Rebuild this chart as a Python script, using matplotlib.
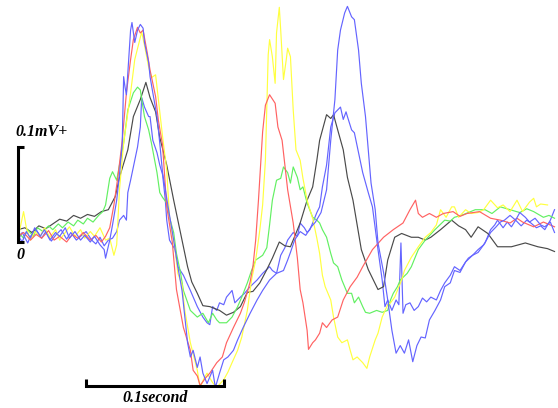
import matplotlib.pyplot as plt

# time in ms, amplitude in microvolts
t_black = [0, 5, 10, 15, 20, 25, 30, 35, 40, 45, 50, 55, 60, 65, 70, 73, 79, 83, 88, 92, 95, 99,
           102, 107, 112, 117, 122, 125, 129, 133, 138, 145, 150, 155, 160, 165, 169, 174, 179, 183,
           188, 192, 196, 203, 208, 212, 215, 217, 222, 225, 227, 230, 234, 237, 241, 247, 252, 259,
           263, 266, 271, 276, 283, 288, 293, 297, 304, 312, 317, 322, 326, 331, 338, 345, 355, 365,
           374, 381, 386]
v_black = [13, 15, 10, 17, 14, 19, 24, 22, 28, 25, 29, 27, 32, 34, 48, 68, 97, 132, 150, 168, 152, 137,
           110, 81, 44, 9, -26, -42, -54, -67, -68, -72, -77, -74, -68, -53, -52, -43, -29, -17,
           0, -4, -5, 20, 44, 58, 86, 107, 134, 130, 134, 118, 97, 68, 44, -8, -29, -50,
           -47, -19, 5, 9, 5, 5, 2, 5, 13, 23, 17, 13, 5, 16, 9, -5, -5, -1,
           -5, -7, -10]

t_red = [0, 4, 9, 13, 17, 22, 26, 30, 35, 39, 43, 47, 52, 56, 60, 63, 66, 69, 72, 75, 78, 81, 83, 86,
         88, 90, 93, 95, 99, 101, 104, 107, 111, 114, 119, 124, 126, 129, 131, 135, 138, 143, 147,
         150, 155, 160, 163, 167, 169, 171, 173, 176, 178, 181, 185, 187, 190, 194, 198, 201, 203,
         205, 208, 209, 212, 214, 217, 219, 222, 226, 230, 234, 239, 244, 248, 255, 263, 270, 277,
         282, 286, 288, 291, 296, 301, 306, 313, 318, 323, 332, 340, 347, 354, 359, 363, 371, 378, 386]
v_red = [6, 10, 2, 8, 4, 12, 2, 6, 0, 8, 4, 10, 2, 7, 0, 6, 15, 39, 70, 107, 157, 192, 213, 226,
         220, 223, 199, 181, 153, 128, 102, 37, 0, -50, -90, -114, -135, -141, -151, -143, -138, -127, -121,
         -106, -90, -75, -63, -42, -26, 2, 44, 116, 144, 155, 146, 121, 107, 55, 20, -17, -50,
         -64, -93, -113, -106, -103, -96, -85, -90, -82, -79, -61, -47, -37, -26, -8, 5, 13, 20,
         34, 44, 30, 26, 30, 26, 30, 32, 27, 30, 32, 25, 23, 20, 25, 21, 16, 21, 16]

t_yellow = [0, 2, 4, 6, 9, 12, 16, 19, 23, 27, 30, 34, 37, 41, 45, 48, 52, 55, 59, 63, 66, 69, 71,
            73, 76, 81, 84, 89, 91, 94, 96, 99, 101, 104, 107, 109, 113, 115, 118, 120, 124, 129, 131,
            134, 136, 140, 143, 148, 151, 154, 158, 161, 165, 168, 171, 174, 176, 178, 180, 181, 183,
            185, 186, 188, 189, 191, 193, 194, 196, 198, 200, 203, 205, 208, 210, 212, 215, 217, 219,
            221, 225, 227, 230, 233, 237, 239, 241, 244, 248, 251, 253, 257, 259, 262, 266, 268, 271,
            276, 278, 283, 288, 293, 297, 301, 304, 308, 312, 314, 317, 322, 326, 331, 335, 340, 345,
            349, 354, 359, 363, 368, 371, 373, 376, 381]
v_yellow = [4, 18, 32, 15, 2, 11, 6, 15, 5, 13, 2, 10, 16, 6, 13, 4, 11, 6, 15, 2, 4, -14, -3,
            55, 104, 157, 192, 221, 207, 184, 173, 176, 150, 111, 76, 26, -8, -33, -45, -72, -106, -135, -153,
            -143, -138, -148, -153, -145, -137, -127, -114, -100, -72, -40, -19, 13, 39, 86, 197, 213, 195,
            167, 220, 247, 223, 171, 192, 204, 195, 139, 97, 86, 67, 44, 34, 25, 4, -12, -35,
            -47, -61, -79, -100, -106, -103, -114, -124, -121, -127, -133, -121, -103, -96, -79, -66, -64, -58,
            -40, -30, -16, -5, 5, 10, 18, 34, 26, 37, 37, 26, 34, 30, 31, 34, 44, 36,
            39, 32, 44, 32, 42, 46, 37, 40, 39]

t_green = [0, 4, 7, 11, 14, 18, 22, 25, 29, 32, 36, 40, 43, 47, 50, 54, 58, 61, 63, 66, 68, 71,
           73, 76, 79, 83, 86, 88, 89, 91, 94, 96, 100, 102, 104, 107, 109, 112, 114, 117, 119, 124,
           129, 133, 137, 140, 143, 145, 150, 154, 158, 161, 165, 168, 171, 176, 179, 181, 183, 186,
           189, 191, 194, 196, 198, 201, 203, 205, 208, 212, 215, 217, 219, 222, 225, 227, 230, 233,
           237, 240, 242, 245, 248, 250, 253, 258, 262, 266, 268, 270, 273, 275, 280, 283, 288, 293,
           300, 307, 311, 314, 319, 324, 329, 336, 341, 347, 354, 361, 366, 371, 378, 382, 386]
v_green = [11, 4, 13, 6, 15, 11, 17, 13, 19, 15, 21, 17, 23, 19, 25, 21, 28, 32, 39, 67, 74, 65,
           81, 104, 139, 157, 163, 160, 150, 132, 118, 104, 73, 52, 47, 41, 26, 10, -12, -33, -51, -72,
           -79, -75, -85, -75, -82, -85, -85, -79, -68, -58, -43, -30, -19, -14, -6, 18, 44, 65,
           67, 79, 73, 62, 79, 68, 55, 58, 41, 26, 23, 20, 13, 5, -12, -22, -26, -40,
           -54, -54, -64, -58, -68, -74, -75, -72, -74, -72, -61, -54, -47, -40, -33, -26, -8, 2,
           13, 23, 22, 26, 28, 31, 34, 34, 30, 37, 34, 31, 35, 32, 26, 28, 25]

t_blue_a = [0, 3, 6, 9, 12, 16, 19, 23, 27, 30, 34, 37, 41, 45, 48, 52, 55, 59, 62, 63, 66, 68,
            71, 73, 75, 76, 77, 78, 81, 82, 84, 86, 88, 90, 91, 94, 95, 97, 100, 102, 104, 108, 112,
            115, 118, 122, 124, 126, 129, 131, 133, 136, 140, 142, 145, 148, 151, 155, 158, 162, 167,
            172, 176, 181, 186, 191, 194, 196, 199, 203, 207, 211, 214, 218, 222, 225, 228, 230, 232,
            235, 237, 240, 242, 245, 247, 250, 252, 254, 257, 259, 263, 266, 269, 272, 275, 278, 281,
            284, 287, 290, 293, 296, 300, 304, 307, 311, 314, 318, 322, 327, 331, 335, 337, 340, 344,
            347, 350, 354, 358, 361, 365, 368, 372, 376, 379, 383, 386]
v_blue_a = [7, 0, 11, 4, 15, 6, 13, 2, 10, 6, 15, 4, 11, 2, 7, 0, 6, -3, -8, -17, 2, 18,
            44, 71, 104, 174, 163, 155, 223, 231, 210, 223, 229, 225, 210, 189, 174, 157, 132, 104, 73, 37, 2,
            -26, -51, -106, -121, -114, -132, -121, -138, -149, -135, -153, -138, -124, -121, -114, -103, -90, -75,
            -61, -51, -40, -33, -30, -19, -11, 2, 11, 7, 16, 21, 31, 55, 107, 150, 202, 223,
            241, 248, 237, 234, 202, 167, 132, 97, 62, 34, -1, -32, -61, -93, -117, -109, -117, -103,
            -126, -109, -100, -101, -82, -72, -61, -47, -43, -30, -32, -21, -14, -8, -3, 2, 10, 16,
            21, 23, 28, 23, 31, 26, 21, 25, 18, 16, 21, 10]

t_blue_b = [0, 3, 7, 9, 13, 17, 20, 24, 27, 31, 35, 38, 42, 45, 49, 53, 56, 59, 62, 65, 68, 71,
            73, 76, 78, 79, 81, 83, 86, 88, 89, 91, 94, 95, 97, 100, 102, 104, 106, 107, 109, 113,
            115, 119, 124, 129, 133, 136, 138, 140, 143, 145, 148, 150, 154, 156, 160, 163, 167, 172,
            176, 181, 183, 186, 189, 192, 194, 198, 201, 203, 206, 208, 210, 212, 215, 217, 219, 222,
            225, 228, 232, 234, 236, 237, 240, 242, 245, 248, 252, 255, 259, 262, 264, 266, 269, 272,
            274, 275.5, 277, 279, 282, 285, 288, 291, 294, 297, 301, 304, 307, 311, 314, 318, 322, 324,
            327, 331, 334, 336, 338, 340, 343, 345, 349, 352, 355, 358, 362, 366, 369, 373, 376, 379,
            383, 386]
v_blue_b = [2, 10, -1, 6, 13, 4, 11, 1, 7, 13, 3, 10, 2, 6, 11, 2, -2, 5, -4, 2, 4, 11,
            23, 28, 23, 52, 65, 79, 100, 121, 152, 142, 132, 132, 107, 94, 81, 71, 44, 23, 2, -8,
            -26, -35, -51, -68, -79, -85, -87, -68, -72, -64, -66, -58, -51, -64, -58, -54, -47, -40,
            -33, -26, -30, -33, -14, -6, 2, 10, 6, 20, 15, 10, 13, 20, 31, 37, 58, 81,
            121, 136, 142, 129, 137, 132, 118, 115, 94, 73, 52, 37, -8, -40, -68, -61, -72, -61,
            -66, -1, -75, -66, -64, -72, -68, -59, -63, -58, -61, -51, -43, -35, -26, -30, -21, -17,
            -14, -11, -5, -1, 6, 13, 18, 23, 15, 21, 16, 23, 17, 23, 20, 15, 17, 13,
            23, 34]

traces = [
    (t_blue_b, v_blue_b, '#6464ff'),
    (t_black, v_black, '#4a4a4a'),
    (t_green, v_green, '#62f062'),
    (t_yellow, v_yellow, '#ffff40'),
    (t_red, v_red, '#ff6262'),
    (t_blue_a, v_blue_a, '#6464ff'),
]

fig = plt.figure(figsize=(5.58, 4.08), dpi=100)
ax = fig.add_axes([0, 0, 1, 1])

for t, v, c in traces:
    ax.plot(t, v, color=c, lw=0.85)

# scale bars
k = dict(color='black', lw=2.2, solid_capstyle='butt', solid_joinstyle='miter')
ax.plot([4, 0, 0, 4], [100, 100, 0, 0], **k)
ax.plot([49, 49, 148.5, 148.5], [-144, -151.5, -151.5, -144], **k)

txt = dict(family='Liberation Serif', weight='bold', style='italic', fontsize=11.5)
ax.text(-1.5, 112, '0.1mV+', ha='left', va='baseline', **txt)
ax.text(-1, -14, '0', ha='left', va='center', **txt)
ax.text(98.5, -164, '0.1second', ha='center', va='center', **txt)

ax.set_xlim(-12.95, 388.5)
ax.set_ylim(-174.7, 254.7)
ax.axis('off')

fig.savefig('out.png', dpi=100)
